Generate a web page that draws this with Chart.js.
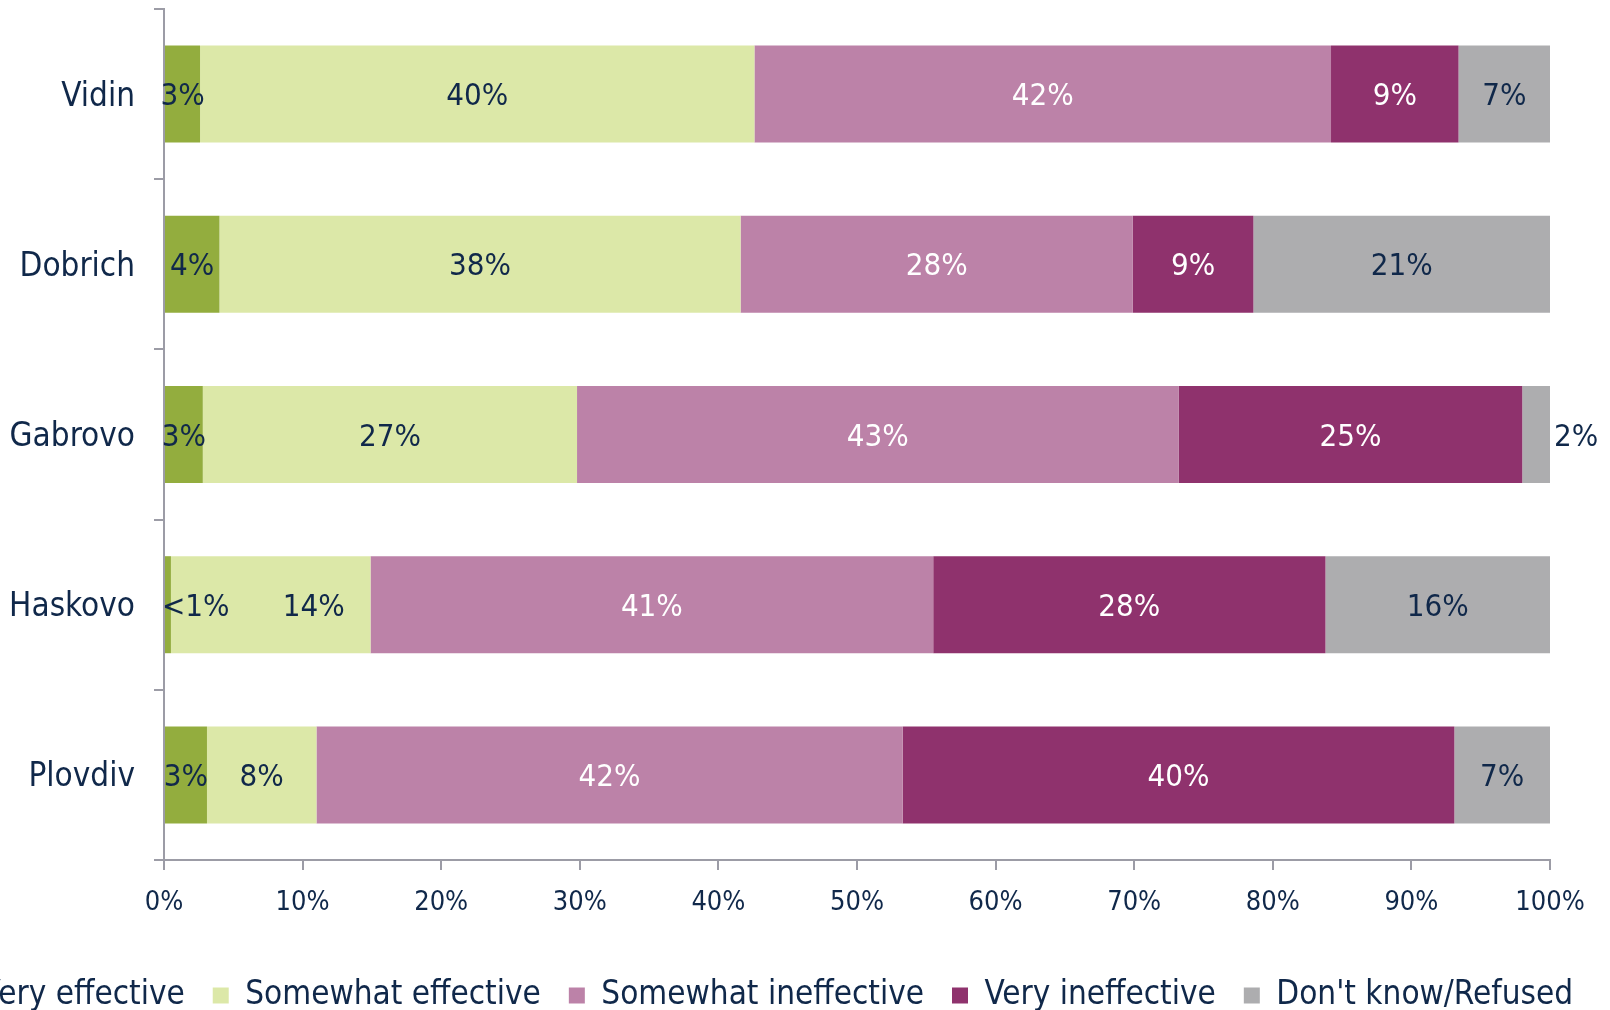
<!DOCTYPE html>
<html>
<head>
<meta charset="utf-8">
<title>Effectiveness by region</title>
<script src="https://cdn.jsdelivr.net/npm/chart.js@4.4.1/dist/chart.umd.min.js"></script>
<style>
    html, body { margin: 0; padding: 0; background: #fff; overflow: hidden; width: 1610px; height: 1010px; }
    /* canvas is wider than the window so the legend can run off the left edge like the original */
    #wrap { position: absolute; left: -80px; top: 0; width: 1760px; height: 1022px; }
</style>
</head>
<body>
<div id="wrap"><canvas id="c"></canvas></div>
<script>
/* ── Data ──────────────────────────────────────────────────────────── */
const regions             = ['Vidin', 'Dobrich', 'Gabrovo', 'Haskovo', 'Plovdiv'];
const seriesNames         = ['Very effective', 'Somewhat effective', 'Somewhat ineffective', 'Very ineffective', "Don't know/Refused"];
const veryEffective       = [2.6, 4.0, 2.8, 0.5, 3.1];
const somewhatEffective   = [40.0, 37.6, 27.0, 14.4, 7.9];
const somewhatIneffective = [41.6, 28.3, 43.4, 40.6, 42.3];
const veryIneffective     = [9.2, 8.7, 24.8, 28.3, 39.8];
const dontKnow            = [6.6, 21.4, 2.0, 16.2, 6.9];
const xTickLabels         = ['0%', '10%', '20%', '30%', '40%', '50%', '60%', '70%', '80%', '90%', '100%'];

/* ── Styles ────────────────────────────────────────────────────────── */
const FONT     = "'DejaVu Sans Condensed', 'DejaVu Sans', sans-serif";
const NAVY     = '#10284a';
const AXIS     = '#9c9ca6';
const colors   = ['#93ad3e', '#dce8a8', '#bc82a8', '#8f326d', '#adadaf'];
const txtColor = [NAVY, NAVY, '#ffffff', '#ffffff', NAVY];
const seriesData = [veryEffective, somewhatEffective, somewhatIneffective, veryIneffective, dontKnow];

// Haskovo labels were pushed apart by hand in the original
const labelShift = { Haskovo: { 1: 43 } };

Chart.defaults.font.family = FONT;
Chart.defaults.color = NAVY;

/* ── Segment labels ────────────────────────────────────────────────── */
const barLabels = {
    id: 'barLabels',
    afterDatasetsDraw(chart) {
        const { ctx, chartArea } = chart;
        const last = chart.data.datasets.length - 1;
        ctx.save();
        ctx.font = `31px ${FONT}`;
        ctx.textBaseline = 'middle';
        ctx.textAlign = 'left';
        chart.data.labels.forEach((cat, j) => {
            chart.data.datasets.forEach((ds, i) => {
                const bar = chart.getDatasetMeta(i).data[j];
                const v   = ds.data[j];
                const txt = v < 1 ? '<1%' : Math.round(v) + '%';
                const w   = ctx.measureText(txt).width;
                const seg = bar.x - bar.base;
                let left  = (bar.x + bar.base) / 2 - w / 2;
                if (i === last && w > seg) left = bar.x + 4;
                if (left < chartArea.left - 4) left = chartArea.left - 2;
                left += (labelShift[cat] || {})[i] || 0;
                ctx.fillStyle = txtColor[i];
                ctx.fillText(txt, left, bar.y + 3);
            });
        });
        ctx.restore();
    },
};

const noEdgePadding = s => {
    s.paddingTop = 0; s.paddingBottom = 0;
    s.paddingLeft = 0; s.paddingRight = 0;
};

/* ── Chart ─────────────────────────────────────────────────────────── */
new Chart(document.getElementById('c'), {
    type: 'bar',
    data: {
        labels: regions,
        datasets: seriesNames.map((name, i) => ({
            label: name,
            data: seriesData[i],
            backgroundColor: colors[i],
            borderWidth: 0,
            barPercentage: 0.57,
            categoryPercentage: 1,
        })),
    },
    options: {
        indexAxis: 'y',
        responsive: true,
        maintainAspectRatio: false,
        animation: false,
        layout: { padding: { left: 0, right: 0, top: 9, bottom: 0 } },
        plugins: {
            legend: {
                position: 'bottom',
                align: 'start',
                labels: {
                    boxWidth: 16,
                    boxHeight: 16,
                    padding: 28,
                    color: NAVY,
                    font: { size: 33 },
                },
            },
            tooltip: { enabled: false },
        },
        scales: {
            x: {
                stacked: true,
                min: 0, max: 100,
                grid: { drawOnChartArea: false, drawTicks: true, tickLength: 10, color: AXIS, lineWidth: 2 },
                border: { display: true, color: AXIS, width: 2 },
                ticks: {
                    stepSize: 10,
                    padding: 17,
                    font: { size: 27 },
                    color: NAVY,
                    callback: (v, i) => xTickLabels[i],
                },
                afterFit(s) { s.height = 91; noEdgePadding(s); },
            },
            y: {
                stacked: true,
                grid: { drawOnChartArea: false, drawTicks: true, tickLength: 10, color: AXIS, lineWidth: 2, offset: true },
                border: { display: true, color: AXIS, width: 2 },
                ticks: { font: { size: 33 }, color: NAVY, padding: 19, labelOffset: 3 },
                afterFit(s) { s.width = 244; noEdgePadding(s); },
            },
            // empty axis that only reserves room on the right
            yr: {
                type: 'category',
                position: 'right',
                grid: { display: false },
                border: { display: false },
                ticks: { display: false },
                afterFit(s) { s.width = 130; noEdgePadding(s); },
            },
        },
    },
    plugins: [barLabels],
});
</script>
</body>
</html>
